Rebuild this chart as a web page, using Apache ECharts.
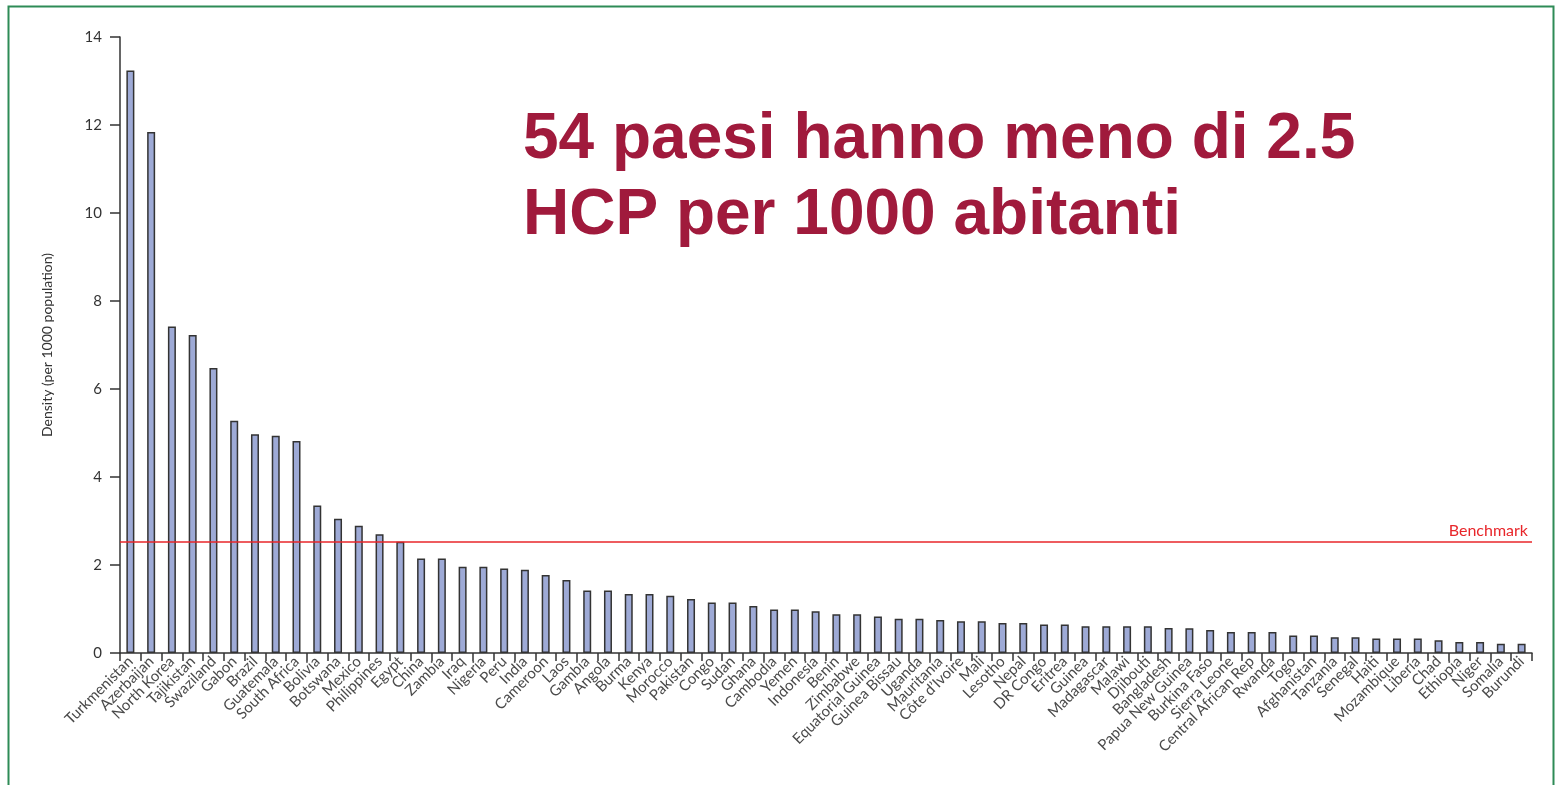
<!DOCTYPE html>
<html>
<head>
<meta charset="utf-8">
<script src="https://cdn.jsdelivr.net/npm/echarts@6/dist/echarts.min.js"></script>
<style>
  html, body { margin: 0; padding: 0; background: #fff; }
  #chart { width: 1556px; height: 785px; }
</style>
</head>
<body>
<div id="chart"></div>
<script>
// Health-care professionals density by country
const countries = [
  'Turkmenistan', 'Azerbaijan', 'North Korea', 'Tajikistan', 'Swaziland', 'Gabon', 'Brazil',
  'Guatemala', 'South Africa', 'Bolivia', 'Botswana', 'Mexico', 'Philippines', 'Egypt',
  'China', 'Zambia', 'Iraq', 'Nigeria', 'Peru', 'India', 'Cameroon', 'Laos', 'Gambia',
  'Angola', 'Burma', 'Kenya', 'Morocco', 'Pakistan', 'Congo', 'Sudan', 'Ghana', 'Cambodia',
  'Yemen', 'Indonesia', 'Benin', 'Zimbabwe', 'Equatorial Guinea', 'Guinea Bissau', 'Uganda',
  'Mauritania', 'Côte d\u2019Ivoire', 'Mali', 'Lesotho', 'Nepal', 'DR Congo', 'Eritrea',
  'Guinea', 'Madagascar', 'Malawi', 'Djibouti', 'Bangladesh', 'Papua New Guinea',
  'Burkina Faso', 'Sierra Leone', 'Central African Rep', 'Rwanda', 'Togo', 'Afghanistan',
  'Tanzania', 'Senegal', 'Haiti', 'Mozambique', 'Liberia', 'Chad', 'Ethiopia', 'Niger',
  'Somalia', 'Burundi'
];

const density = [
  13.24, 11.84, 7.42, 7.23, 6.48, 5.28, 4.97,
  4.94, 4.82, 3.35, 3.05, 2.89, 2.70, 2.53,
  2.15, 2.15, 1.96, 1.96, 1.92, 1.89, 1.77, 1.66, 1.42,
  1.42, 1.34, 1.34, 1.30, 1.23, 1.15, 1.15, 1.07, 0.99,
  0.99, 0.95, 0.88, 0.88, 0.83, 0.78, 0.78,
  0.75, 0.72, 0.72, 0.68, 0.68, 0.65, 0.65,
  0.61, 0.61, 0.61, 0.61, 0.57, 0.56,
  0.52, 0.48, 0.48, 0.48, 0.40, 0.40,
  0.36, 0.36, 0.33, 0.33, 0.33, 0.29, 0.25, 0.25,
  0.21, 0.21
];

const yTicks = [0, 2, 4, 6, 8, 10, 12, 14];
const benchmark = 2.53;

const chart = echarts.init(document.getElementById('chart'), null, { renderer: 'canvas' });

const option = {
  backgroundColor: '#fff',
  animation: false,
  title: {
    text: '54 paesi hanno meno di 2.5\nHCP per 1000 abitanti',
    left: 518,
    top: 97,
    textStyle: {
      color: '#a01a3c',
      fontFamily: 'Liberation Sans',
      fontWeight: 'bold',
      fontSize: 64,
      lineHeight: 76
    }
  },
  graphic: [{
    type: 'rect',
    shape: { x: 8.5, y: 6.5, width: 1545, height: 820 },
    style: { fill: 'none', stroke: '#2e8b57', lineWidth: 2 },
    silent: true
  }],
  grid: { left: 120, right: 24, top: 37, bottom: 132 },
  xAxis: {
    type: 'category',
    data: countries,
    boundaryGap: true,
    axisLine: { lineStyle: { color: '#333', width: 1.5 } },
    axisTick: { show: true, length: 8, alignWithLabel: false, lineStyle: { color: '#333', width: 1.5 } },
    axisLabel: {
      interval: 0,
      rotate: 45,
      margin: 6,
      fontSize: 15,
      fontFamily: 'Lato',
      color: '#4a4a4a'
    }
  },
  yAxis: {
    type: 'value',
    min: yTicks[0],
    max: yTicks[yTicks.length - 1],
    interval: 2,
    name: 'Density (per 1000 population)',
    nameLocation: 'middle',
    nameRotate: 90,
    nameGap: 66,
    nameTextStyle: { fontSize: 14, fontFamily: 'Lato', color: '#333' },
    splitLine: { show: false },
    axisLine: { show: true, lineStyle: { color: '#333', width: 1.5 } },
    axisTick: { show: true, length: 10, lineStyle: { color: '#333', width: 1.5 } },
    axisLabel: { fontSize: 15, fontFamily: 'Lato', color: '#333', margin: 18 }
  },
  series: [{
    type: 'bar',
    data: density,
    barWidth: 8,
    itemStyle: { color: '#9eaad6', borderColor: '#333', borderWidth: 1.5 },
    markLine: {
      silent: true,
      symbol: 'none',
      lineStyle: { color: '#e8262a', width: 1.5, type: 'solid' },
      label: {
        position: 'insideEndTop',
        formatter: 'Benchmark',
        color: '#e8262a',
        fontSize: 16,
        fontFamily: 'Lato',
        distance: [4, 3]
      },
      data: [{ yAxis: benchmark }]
    }
  }]
};

chart.setOption(option);
</script>
</body>
</html>
